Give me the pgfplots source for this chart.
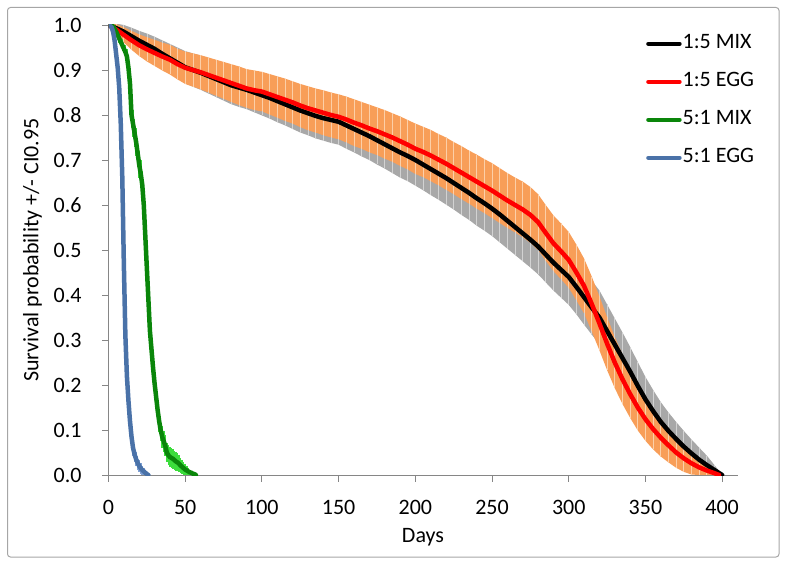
\documentclass[border=0pt]{standalone}
\usepackage{pgfplots}
\pgfplotsset{compat=1.18}
\usepackage{pgfplotstable}
\usepgfplotslibrary{fillbetween}
\usepackage{fontspec}
\setmainfont{Carlito}
\definecolor{cgreen}{HTML}{0A860A}
\definecolor{cblue}{HTML}{4A72A8}
\definecolor{corange}{HTML}{F89E58}
\definecolor{corangelt}{HTML}{FCCFA8}
\definecolor{cgray}{HTML}{A8A8A8}
\definecolor{cgraylt}{HTML}{D2D2D2}
\definecolor{clime}{HTML}{3CDC3C}
\definecolor{clblue}{HTML}{7FA0D4}
\definecolor{axgray}{HTML}{868686}

\pgfplotstableread{
x y e
0 1.000 0.000
5 0.993 0.010
10 0.985 0.015
15 0.975 0.019
20 0.965 0.022
25 0.956 0.025
30 0.947 0.027
35 0.936 0.030
40 0.926 0.032
45 0.916 0.034
50 0.906 0.036
55 0.900 0.037
60 0.894 0.038
65 0.887 0.039
70 0.880 0.040
75 0.873 0.041
80 0.866 0.042
85 0.861 0.043
90 0.856 0.043
95 0.850 0.044
100 0.844 0.045
105 0.838 0.046
110 0.831 0.047
115 0.824 0.047
120 0.817 0.048
125 0.810 0.049
130 0.804 0.049
135 0.798 0.050
140 0.793 0.050
145 0.789 0.051
150 0.785 0.051
155 0.777 0.052
160 0.769 0.052
165 0.761 0.053
170 0.753 0.053
175 0.744 0.054
180 0.735 0.054
185 0.726 0.055
190 0.717 0.056
195 0.709 0.056
200 0.700 0.057
205 0.690 0.057
210 0.680 0.058
215 0.670 0.058
220 0.660 0.059
225 0.649 0.059
230 0.638 0.060
235 0.627 0.060
240 0.615 0.061
245 0.604 0.061
250 0.592 0.061
255 0.579 0.062
260 0.565 0.062
265 0.551 0.062
270 0.537 0.062
275 0.523 0.062
280 0.508 0.062
285 0.490 0.062
290 0.472 0.062
295 0.456 0.062
300 0.440 0.062
305 0.418 0.061
310 0.395 0.061
315 0.372 0.060
320 0.350 0.060
325 0.320 0.059
330 0.290 0.058
335 0.260 0.057
340 0.230 0.055
345 0.198 0.053
350 0.168 0.050
355 0.142 0.047
360 0.118 0.044
365 0.098 0.041
370 0.080 0.038
375 0.063 0.035
380 0.048 0.031
385 0.034 0.027
390 0.022 0.021
395 0.011 0.011
400 0.000 0.000
}\mixlow

\pgfplotstableread{
x y e
0 1.000 0.000
5 0.990 0.012
10 0.978 0.017
15 0.966 0.021
20 0.955 0.024
25 0.946 0.027
30 0.938 0.029
35 0.930 0.031
40 0.923 0.033
45 0.913 0.034
50 0.905 0.036
55 0.900 0.037
60 0.895 0.038
65 0.889 0.039
70 0.883 0.040
75 0.877 0.041
80 0.871 0.042
85 0.865 0.043
90 0.859 0.043
95 0.855 0.044
100 0.852 0.044
105 0.846 0.045
110 0.840 0.046
115 0.834 0.047
120 0.828 0.047
125 0.821 0.048
130 0.815 0.049
135 0.810 0.049
140 0.805 0.050
145 0.800 0.050
150 0.796 0.050
155 0.790 0.051
160 0.783 0.052
165 0.777 0.052
170 0.770 0.053
175 0.764 0.053
180 0.757 0.054
185 0.750 0.054
190 0.742 0.055
195 0.734 0.055
200 0.725 0.056
205 0.718 0.056
210 0.710 0.057
215 0.701 0.057
220 0.692 0.058
225 0.682 0.058
230 0.672 0.059
235 0.662 0.059
240 0.652 0.060
245 0.642 0.060
250 0.632 0.061
255 0.621 0.061
260 0.610 0.061
265 0.600 0.061
270 0.590 0.062
275 0.578 0.062
280 0.562 0.062
285 0.538 0.062
290 0.515 0.062
295 0.497 0.062
300 0.478 0.062
305 0.450 0.062
310 0.420 0.061
315 0.380 0.061
320 0.337 0.060
325 0.292 0.059
330 0.250 0.057
335 0.213 0.055
340 0.180 0.053
345 0.150 0.051
350 0.124 0.048
355 0.102 0.045
360 0.083 0.042
365 0.066 0.038
370 0.050 0.034
375 0.037 0.030
380 0.026 0.025
385 0.017 0.017
390 0.010 0.010
395 0.004 0.004
398 0.000 0.000
}\egglow

\pgfplotstableread{
x y e
0 1.000 0.000
3 0.997 0.004
5 0.985 0.008
7 0.970 0.011
9 0.955 0.013
11 0.940 0.015
12 0.930 0.016
13 0.905 0.018
14 0.870 0.022
15 0.800 0.028
16 0.780 0.030
17 0.760 0.031
18 0.740 0.031
19 0.715 0.031
20 0.690 0.031
21 0.670 0.031
22 0.645 0.031
23 0.600 0.031
24 0.530 0.031
25 0.460 0.031
26 0.390 0.030
27 0.320 0.030
28 0.280 0.029
29 0.240 0.029
30 0.205 0.028
31 0.175 0.027
32 0.145 0.026
33 0.120 0.025
34 0.100 0.024
35 0.085 0.024
36 0.075 0.023
37 0.065 0.023
38 0.050 0.022
39 0.044 0.022
40 0.040 0.022
41 0.038 0.022
42 0.036 0.022
43 0.033 0.021
44 0.030 0.021
45 0.028 0.020
46 0.025 0.019
47 0.021 0.017
48 0.018 0.016
49 0.015 0.014
50 0.012 0.012
51 0.010 0.010
52 0.008 0.008
53 0.006 0.006
54 0.005 0.005
55 0.003 0.003
56 0.002 0.002
57 0.000 0.000
}\mixhigh

\pgfplotstableread{
x y e
0 1.000 0.000
1 0.998 0.003
2 0.995 0.006
3 0.985 0.009
4 0.965 0.013
5 0.935 0.016
6 0.905 0.018
7 0.860 0.020
8 0.780 0.022
9 0.660 0.023
10 0.470 0.024
11 0.310 0.023
12 0.220 0.022
13 0.165 0.021
14 0.120 0.020
15 0.085 0.019
16 0.060 0.018
17 0.046 0.017
18 0.035 0.016
19 0.027 0.015
20 0.020 0.014
21 0.015 0.012
22 0.011 0.010
23 0.008 0.008
24 0.005 0.005
25 0.002 0.002
26 0.000 0.000
}\egghigh

\begin{document}
\fontsize{22}{26}\selectfont
\begin{tikzpicture}
\begin{axis}[
  at={(108.5pt,91pt)}, anchor=south west,
  scale only axis, width=629pt, height=450pt,
  xmin=0, xmax=410, ymin=0, ymax=1,
  axis x line*=bottom, axis y line*=left,
  axis line style={-, draw=axgray, line width=0.9pt},
  xtick={0,50,...,400},
  ytick={0,0.1,...,1.0},
  tick align=outside, major tick length=6.5pt,
  tick style={draw=axgray, line width=0.9pt},
  /pgf/number format/assume math mode=true,
  yticklabel style={/pgf/number format/fixed, /pgf/number format/fixed zerofill, /pgf/number format/precision=1, xshift=-13pt},
  xticklabel style={yshift=-11pt},
  every axis x label/.style={at={(axis description cs:0.5,0)}, anchor=center, yshift=-62pt},
  every axis y label/.style={at={(axis description cs:-0.1208,0.5)}, rotate=90, anchor=center},
  xlabel={Days},
  ylabel={Survival probability +/- CI0.95},
  legend style={at={(0.8545,0.983)}, anchor=north west, draw=none, fill=none, inner sep=0pt,
    row sep=16pt, nodes={inner sep=1pt, text height=15pt, text depth=5pt}},
  legend cell align=left,
  legend image code/.code={\draw[#1] (0pt,0pt) -- (31pt,0pt);},
]
% confidence bands of the 1:5 groups
\addplot[name path=mlU, draw=none, forget plot] table[x=x, y expr=\thisrow{y}+\thisrow{e}] {\mixlow};
\addplot[name path=mlL, draw=none, forget plot] table[x=x, y expr=\thisrow{y}-\thisrow{e}] {\mixlow};
\addplot[name path=elU, draw=none, forget plot] table[x=x, y expr=\thisrow{y}+\thisrow{e}] {\egglow};
\addplot[name path=elL, draw=none, forget plot] table[x=x, y expr=\thisrow{y}-\thisrow{e}] {\egglow};
\addplot[fill=cgray, draw=none, forget plot] fill between[of=mlU and mlL];
\addplot[fill=corange, draw=none, forget plot] fill between[of=elU and elL];
% thin light stripes inside the bands
\addplot[draw=none, mark=none, forget plot,
  error bars/.cd, y dir=both, y explicit, error mark=none,
  error bar style={draw=cgraylt, line width=0.7pt}]
  table[x=x, y=y, y error=e] {\mixlow};
\addplot[draw=none, mark=none, forget plot,
  error bars/.cd, y dir=both, y explicit, error mark=none,
  error bar style={draw=corangelt, line width=0.7pt}]
  table[x=x, y=y, y error=e] {\egglow};
% curves
\addplot[black, line width=4.5pt, line join=round, line cap=round, mark=none] table[x=x, y=y] {\mixlow};
\addlegendentry{1:5 MIX}
\addplot[red, line width=4.5pt, line join=round, line cap=round, mark=none] table[x=x, y=y] {\egglow};
\addlegendentry{1:5 EGG}
\addplot[draw=none, mark=none, forget plot,
  error bars/.cd, y dir=both, y explicit, error mark=none,
  error bar style={draw=clime, line width=1.6pt}]
  table[x=x, y=y, y error=e] {\mixhigh};
\addplot[cgreen, line width=4.5pt, line join=round, line cap=round, mark=none] table[x=x, y=y] {\mixhigh};
\addlegendentry{5:1 MIX}
\addplot[draw=none, mark=none, forget plot,
  error bars/.cd, y dir=both, y explicit, error mark=none,
  error bar style={draw=clblue, line width=1.6pt}]
  table[x=x, y=y, y error=e] {\egghigh};
\addplot[cblue, line width=4.5pt, line join=round, line cap=round, mark=none] table[x=x, y=y] {\egghigh};
\addlegendentry{5:1 EGG}
\end{axis}
\path (0,0) rectangle (787pt,566pt);
\draw[color=black!35, line width=1pt, rounded corners=3pt] (7.5pt,9pt) rectangle (779pt,558.5pt);
\end{tikzpicture}
\end{document}
